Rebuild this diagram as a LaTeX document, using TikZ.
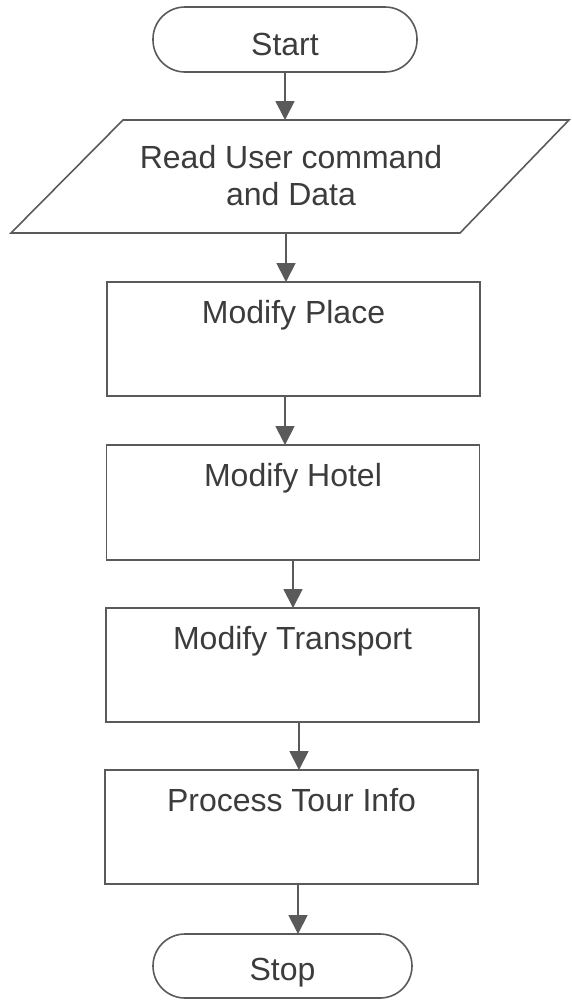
\documentclass[tikz,border=0pt]{standalone}
\usepackage{fontspec}
\setmainfont{Liberation Sans}
\usetikzlibrary{arrows.meta,calc}
\definecolor{ink}{HTML}{3C3C3C}
\definecolor{edge}{HTML}{5A5A5A}
\begin{document}
\begin{tikzpicture}[x=1pt,y=-1pt,
  every node/.style={inner sep=0pt,outer sep=0pt},
  stepbox/.style={draw=edge,line width=1.6pt,rectangle,minimum width=373pt,minimum height=114pt},
  terminal/.style={draw=edge,line width=1.6pt,rectangle,rounded corners=32pt},
  caption/.style={text=ink,font=\fontsize{32}{37}\selectfont,align=center},
  flow/.style={draw=edge,line width=1.8pt,-{Triangle[length=19pt,width=19pt]}},
]
\useasboundingbox (0,0) rectangle (571,1002);

% terminals
\node[terminal,minimum width=264pt,minimum height=65pt] (start) at (285,39.5) {};
\node[caption,anchor=base] (starttext) at ([yshift=-15.5pt]start.center) {Start};

% input / output parallelogram
\node[minimum width=339pt,minimum height=113pt] (read) at (291,176.5) {};
\draw[draw=edge,line width=1.6pt]
  ($(read.center)+(-168,-56.5)$) -- ($(read.center)+(278,-56.5)$) --
  ($(read.center)+(169,56.5)$) -- ($(read.center)+(-280,56.5)$) -- cycle;
\node[caption] (readtext) at (291,175.5) {Read User command\\and Data};

% process steps
\node[stepbox] (place) at (293.5,339) {};
\node[caption,anchor=base] (placetext) at ([yshift=-41pt]place.north) {Modify Place};

\node[stepbox,minimum height=115pt] (hotel) at (293,502.5) {};
\node[caption,anchor=base] (hoteltext) at ([yshift=-41pt]hotel.north) {Modify Hotel};

\node[stepbox] (transport) at (292.5,665) {};
\node[caption,anchor=base] (transporttext) at ([yshift=-41pt]transport.north) {Modify Transport};

\node[stepbox] (process) at (291.5,827) {};
\node[caption,anchor=base] (processtext) at ([yshift=-41pt]process.north) {Process Tour Info};

\node[terminal,minimum width=259pt,minimum height=64pt] (stop) at (282.5,966) {};
\node[caption,anchor=base] (stoptext) at ([yshift=-14pt]stop.center) {Stop};

% connectors
\draw[flow] (start.south) -- (start.south |- read.north);
\draw[flow] ([xshift=-5pt]read.south) -- ([xshift=-5pt]read.south |- place.north);
\draw[flow] ([xshift=-8.5pt]place.south) -- ([xshift=-8.5pt]place.south |- hotel.north);
\draw[flow] (hotel.south) -- (hotel.south |- transport.north);
\draw[flow] ([xshift=6.5pt]transport.south) -- ([xshift=6.5pt]transport.south |- process.north);
\draw[flow] ([xshift=6.5pt]process.south) -- ([xshift=6.5pt]process.south |- stop.north);
\end{tikzpicture}
\end{document}
